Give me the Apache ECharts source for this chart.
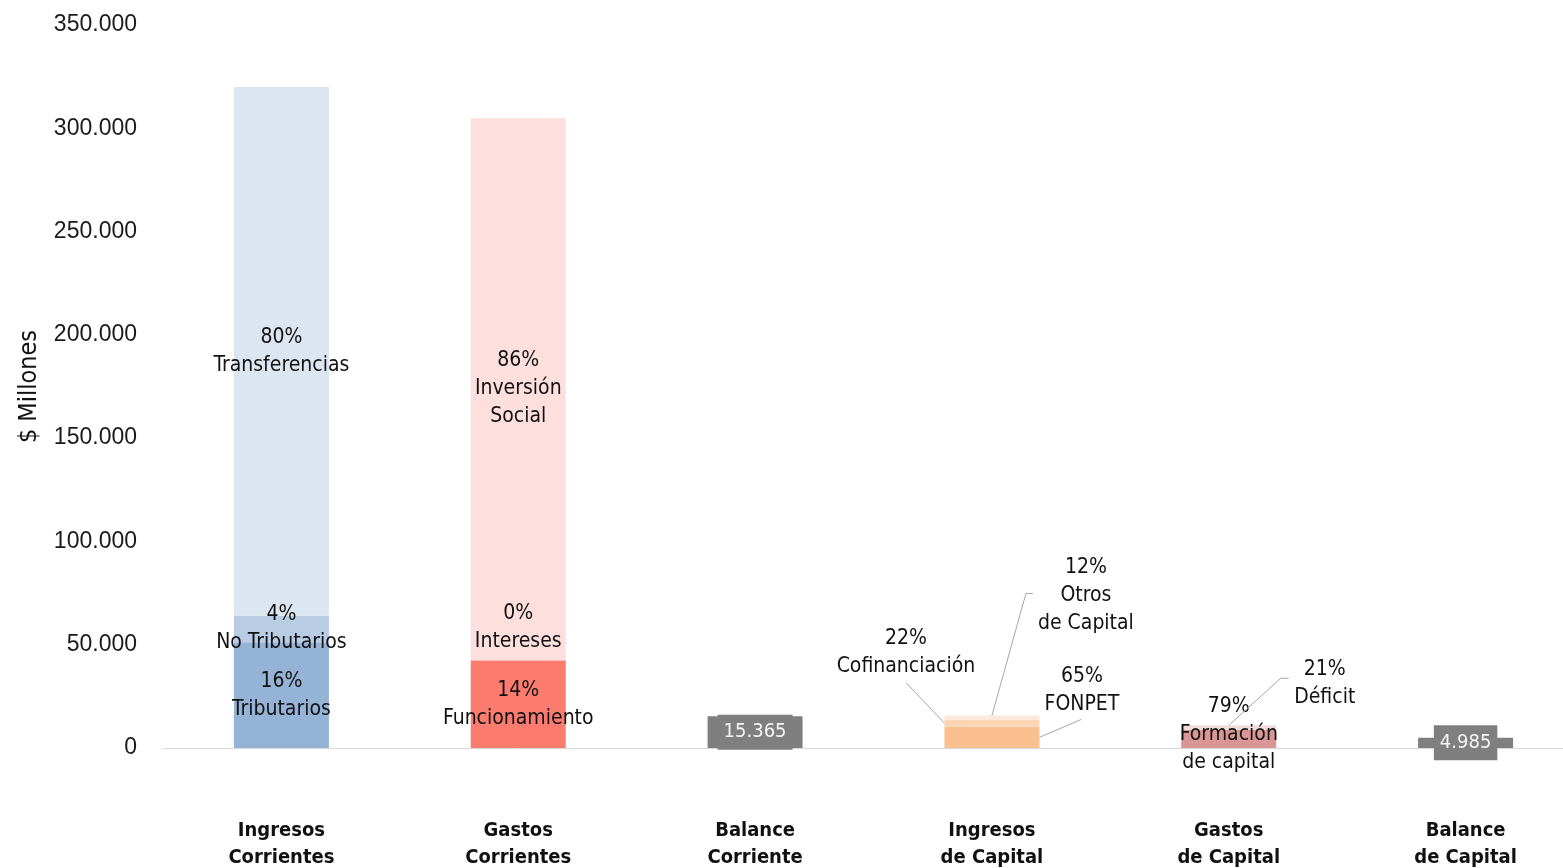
<!DOCTYPE html>
<html>
<head>
<meta charset="utf-8">
<title>Balance</title>
<script src="https://cdn.jsdelivr.net/npm/echarts@6/dist/echarts.min.js"></script>
<style>
    html, body { margin: 0; padding: 0; background: #fff; }
    #chart { width: 1563px; height: 868px; }
</style>
</head>
<body>
<div id="chart"></div>
<script>
// categorías del eje x
var categories = ['Ingresos\nCorrientes', 'Gastos\nCorrientes', 'Balance\nCorriente',
    'Ingresos\nde Capital', 'Gastos\nde Capital', 'Balance\nde Capital'];

// segmentos apilados (uno por serie)
var segNames = ['Tributarios', 'No Tributarios', 'Transferencias',
    'Funcionamiento', 'Intereses', 'Inversión\nSocial',
    'Balance Corriente',
    'FONPET', 'Cofinanciación', 'Otros\nde Capital',
    'Formación\nde capital', 'Déficit',
    'Balance de Capital'];
var segCategory = [0, 0, 0, 1, 1, 1, 2, 3, 3, 3, 4, 4, 5];
var segValues = [51200, 12800, 256000, 42300, 600, 262000, 15365, 10300, 3500, 1900, 8700, 2300, 4985];
var segPct = ['16%', '4%', '80%', '14%', '0%', '86%', '', '65%', '22%', '12%', '79%', '21%', ''];

var yTicks = [0, 50000, 100000, 150000, 200000, 250000, 300000, 350000];

var narrow = '"DejaVu Sans Condensed", "Liberation Sans Narrow", sans-serif';
var BAR_W = 95;

function fmt(v) {
    return String(Math.round(v)).replace(/\B(?=(\d{3})+(?!\d))/g, '.');
}

// estilos de cada segmento (color, desplazamiento de etiqueta)
var segStyle = [
    { color: '#95b3d7' },
    { color: '#b8cce4' },
    { color: '#dce6f1' },
    { color: '#fc7b6f' },
    { color: '#fcbcb6', position: 'top', distance: 4 },
    { color: '#fde0de' },
    { color: '#7f7f7f', box: true },
    { color: '#fac090', dx: 90, dy: -47 },
    { color: '#fcd5b4', dx: -86, dy: -71 },
    { color: '#fde9d9', dx: 94, dy: -122 },
    { color: '#da9694', dy: -4 },
    { color: '#f2dcdb', dx: 96, dy: -44 },
    { color: '#7f7f7f', box: true }
];

// líneas guía: segmento, punto de anclaje en la barra y desplazamientos en px
var guides = [
    { seg: 8, anchor: 'left', offs: [[-38, -40]] },
    { seg: 9, anchor: 'top', offs: [[34, -122], [41, -122]] },
    { seg: 7, anchor: 'right', offs: [[42, -18]] },
    { seg: 11, anchor: 'top', offs: [[52, -47], [60, -47]] }
];

function segBase(i) {
    var b = 0;
    for (var k = 0; k < i; k++) {
        if (segCategory[k] === segCategory[i]) b += segValues[k];
    }
    return b;
}

var guideData = guides.map(function (g) {
    var b = segBase(g.seg), v = segValues[g.seg];
    return [segCategory[g.seg], g.anchor === 'top' ? b + v : b + v / 2];
});

var series = segNames.map(function (name, i) {
    var st = segStyle[i];
    var data = categories.map(function (c, k) {
        return k === segCategory[i] ? segValues[i] : '-';
    });
    var s = {
        name: name,
        type: 'bar',
        stack: 'total',
        barWidth: BAR_W,
        itemStyle: { color: st.color },
        data: data
    };
    if (st.box) {
        s.label = {
            show: true,
            position: 'inside',
            formatter: function (p) { return fmt(p.value); },
            color: '#f5f5f5',
            fontFamily: narrow,
            fontSize: 20,
            backgroundColor: '#7f7f7f',
            padding: [8, 6, 7, 6],
            textBorderWidth: 0
        };
    } else {
        s.label = {
            show: true,
            position: st.position || 'inside',
            distance: st.distance || 5,
            formatter: segPct[i] + '\n' + name,
            color: '#111',
            fontFamily: narrow,
            fontSize: 21,
            lineHeight: 28,
            textBorderWidth: 0
        };
    }
    if (st.dx || st.dy) {
        s.labelLayout = { dx: st.dx || 0, dy: st.dy || 0 };
    }
    return s;
});

// líneas guía de las etiquetas desplazadas
series.push({
    type: 'custom',
    silent: true,
    z: 5,
    data: guideData,
    renderItem: function (params, api) {
        var g = guides[params.dataIndex];
        var p = api.coord([api.value(0), api.value(1)]);
        var ax = p[0] + (g.anchor === 'left' ? -BAR_W / 2 : g.anchor === 'right' ? BAR_W / 2 : 0);
        var pts = [[ax, p[1]]];
        g.offs.forEach(function (o) { pts.push([ax + o[0], p[1] + o[1]]); });
        return {
            type: 'polyline',
            shape: { points: pts },
            style: { stroke: '#a6a6a6', lineWidth: 1, fill: null }
        };
    }
});

var myChart = echarts.init(document.getElementById('chart'));
var option = {
    animation: false,
    grid: {
        left: 163,
        right: -21,
        top: 25,
        bottom: 120,
        outerBoundsMode: 'none',
        containLabel: false
    },
    xAxis: {
        type: 'category',
        data: categories,
        axisTick: { show: false },
        axisLine: { lineStyle: { color: '#d9d9d9', width: 1 } },
        axisLabel: {
            margin: 69,
            interval: 0,
            color: '#111',
            fontFamily: narrow,
            fontWeight: 'bold',
            fontSize: 20,
            lineHeight: 27
        }
    },
    yAxis: {
        type: 'value',
        min: 0,
        max: yTicks[yTicks.length - 1],
        interval: yTicks[1] - yTicks[0],
        name: '$ Millones',
        nameLocation: 'middle',
        nameRotate: 90,
        nameGap: 121,
        nameTextStyle: { color: '#111', fontFamily: narrow, fontSize: 25 },
        axisLine: { show: false },
        axisTick: { show: false },
        splitLine: { show: false },
        axisLabel: {
            margin: 26,
            color: '#1a1a1a',
            fontFamily: '"Liberation Sans", Arial, sans-serif',
            fontSize: 23,
            padding: [6, 0, 0, 0],
            formatter: function (v) { return fmt(v); }
        }
    },
    series: series
};
myChart.setOption(option);
window.addEventListener('resize', function () {
    myChart.resize();
});
</script>
</body>
</html>
